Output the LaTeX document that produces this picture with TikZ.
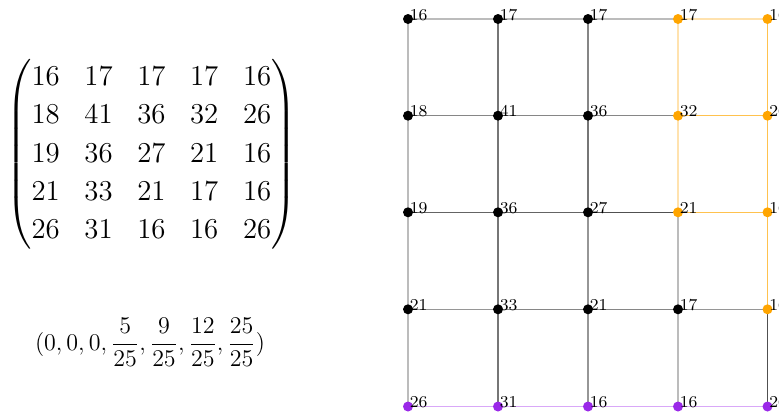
\documentclass[tikz,border=0pt]{standalone}
\usepackage{amsmath}
\usepackage{fontspec}
\usetikzlibrary{backgrounds,calc}
\definecolor{gA}{HTML}{BCBCBC}
\definecolor{gB}{HTML}{969696}
\definecolor{gC}{HTML}{868686}
\definecolor{gD}{HTML}{767676}
\definecolor{gE}{HTML}{646464}
\definecolor{gF}{HTML}{505050}
\definecolor{oL}{HTML}{FFE2AE}
\definecolor{oM}{HTML}{FFC24E}
\definecolor{pL}{HTML}{D9A8F8}
\definecolor{dotO}{HTML}{FFA500}
\definecolor{dotP}{HTML}{9A28E8}
\newcommand\gnode[5]{%
  \node[dot, fill=#4] (#1) at (#2,#3) {};
  \node[lbl] (#1l) at ($(#1)+(1.5,1)$) {#5};}
\begin{document}
\begin{tikzpicture}[x=0.5pt,y=-0.5pt,
  dot/.style={circle,draw=none,inner sep=0pt,minimum size=5pt},
  lbl/.style={inner sep=0pt,anchor=base west,font=\fontsize{8.3}{9}\selectfont},
  edg/.style={line width=0.65pt}]
\useasboundingbox (0,0) rectangle (779,414);
% matrix and vector
\node[inner sep=0pt] (mat) at (151.5,154.5) {\fontsize{14.4}{19.2}\selectfont\setlength{\arraycolsep}{6.17pt}$\begin{pmatrix}
16 & 17 & 17 & 17 & 16\\
18 & 41 & 36 & 32 & 26\\
19 & 36 & 27 & 21 & 16\\
21 & 33 & 21 & 17 & 16\\
26 & 31 & 16 & 16 & 26
\end{pmatrix}$};
\node[inner sep=0pt,anchor=base] (vec) at (150,350) {\large $\displaystyle (0,0,0,\frac{5}{25},\frac{9}{25},\frac{12}{25},\frac{25}{25})$};
% grid nodes
\gnode{n00}{408}{19}{black}{16}
\gnode{n01}{498}{19}{black}{17}
\gnode{n02}{588}{19}{black}{17}
\gnode{n03}{678}{19}{dotO}{17}
\gnode{n04}{767.5}{19}{dotO}{16}
\gnode{n10}{408}{115.7}{black}{18}
\gnode{n11}{498}{115.7}{black}{41}
\gnode{n12}{588}{115.7}{black}{36}
\gnode{n13}{678}{115.7}{dotO}{32}
\gnode{n14}{767.5}{115.7}{dotO}{26}
\gnode{n20}{408}{212.3}{black}{19}
\gnode{n21}{498}{212.3}{black}{36}
\gnode{n22}{588}{212.3}{black}{27}
\gnode{n23}{678}{212.3}{dotO}{21}
\gnode{n24}{767.5}{212.3}{dotO}{16}
\gnode{n30}{408}{309.3}{black}{21}
\gnode{n31}{498}{309.3}{black}{33}
\gnode{n32}{588}{309.3}{black}{21}
\gnode{n33}{678}{309.3}{black}{17}
\gnode{n34}{767.5}{309.3}{dotO}{16}
\gnode{n40}{408}{406.5}{dotP}{26}
\gnode{n41}{498}{406.5}{dotP}{31}
\gnode{n42}{588}{406.5}{dotP}{16}
\gnode{n43}{678}{406.5}{dotP}{16}
\gnode{n44}{767.5}{406.5}{dotP}{26}
\begin{scope}[on background layer]
% horizontal edges
\draw[edg,gA] (n00.center) -- (n01.center);
\draw[edg,gA] (n01.center) -- (n02.center);
\draw[edg,gA] (n02.center) -- (n03.center);
\draw[edg,oL] (n03.center) -- (n04.center);
\draw[edg,gC] (n10.center) -- (n11.center);
\draw[edg,gC] (n11.center) -- (n12.center);
\draw[edg,gC] (n12.center) -- (n13.center);
\draw[edg,oM] (n13.center) -- (n14.center);
\draw[edg,gE] (n20.center) -- (n21.center);
\draw[edg,gE] (n21.center) -- (n22.center);
\draw[edg,gF] (n22.center) -- (n23.center);
\draw[edg,oM] (n23.center) -- (n24.center);
\draw[edg,gB] (n30.center) -- (n31.center);
\draw[edg,gC] (n31.center) -- (n32.center);
\draw[edg,gC] (n32.center) -- (n33.center);
\draw[edg,gB] (n33.center) -- (n34.center);
\draw[edg,pL] (n40.center) -- (n41.center);
\draw[edg,pL] (n41.center) -- (n42.center);
\draw[edg,pL] (n42.center) -- (n43.center);
\draw[edg,pL] (n43.center) -- (n44.center);
% vertical edges
\draw[edg,gA] (n00.center) -- (n10.center);
\draw[edg,gA] (n10.center) -- (n20.center);
\draw[edg,gA] (n20.center) -- (n30.center);
\draw[edg,gA] (n30.center) -- (n40.center);
\draw[edg,gD] (n01.center) -- (n11.center);
\draw[edg,gD] (n11.center) -- (n21.center);
\draw[edg,gD] (n21.center) -- (n31.center);
\draw[edg,gD] (n31.center) -- (n41.center);
\draw[edg,gC] (n02.center) -- (n12.center);
\draw[edg,gD] (n12.center) -- (n22.center);
\draw[edg,gB] (n22.center) -- (n32.center);
\draw[edg,gB] (n32.center) -- (n42.center);
\draw[edg,oL] (n03.center) -- (n13.center);
\draw[edg,oL] (n13.center) -- (n23.center);
\draw[edg,gA] (n23.center) -- (n33.center);
\draw[edg,gA] (n33.center) -- (n43.center);
\draw[edg,oM] (n04.center) -- (n14.center);
\draw[edg,oM] (n14.center) -- (n24.center);
\draw[edg,oM] (n24.center) -- (n34.center);
\draw[edg,gF] (n34.center) -- (n44.center);
\end{scope}
\end{tikzpicture}
\end{document}
